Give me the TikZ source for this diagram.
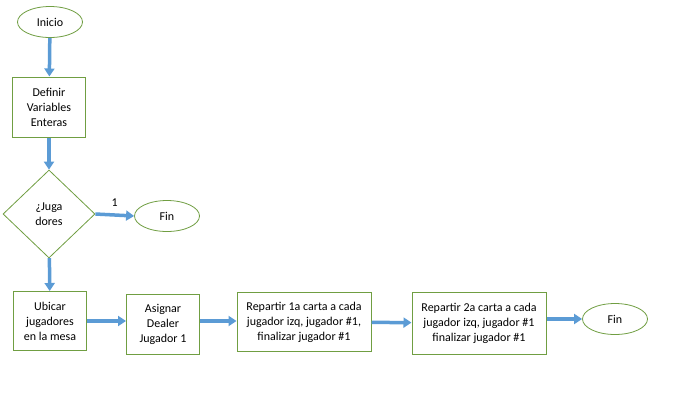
\documentclass[tikz,border=0pt]{standalone}
\usepackage{fontspec}
\setmainfont{Carlito}
\usetikzlibrary{shapes.geometric,arrows.meta}
\definecolor{borde}{RGB}{112,158,66}
\definecolor{flecha}{RGB}{91,155,213}
\tikzset{
  caja/.style={draw=borde, line width=1pt, fill=white, align=center, inner sep=0pt,
    font=\fontsize{12}{15}\selectfont},
  terminal/.style={caja, ellipse, line width=0.8pt, minimum width=65pt, minimum height=31pt},
  decision/.style={caja, diamond, line width=0.8pt, minimum width=92pt, minimum height=88pt},
  flujo/.style={draw=flecha, line width=3.5pt, -{Triangle[length=8pt,width=10pt]}}
}
\begin{document}
\begin{tikzpicture}[x=1pt,y=-1pt]
  \useasboundingbox (0,0) rectangle (676,416);
  % columna izquierda
  \node[terminal] (inicio) at (50,22) {Inicio};
  \node[caja, minimum width=73pt, minimum height=60pt] (definir) at (49,107) {Definir\\Variables\\Enteras};
  \node[decision] (jugadores) at (49,214) {¿Juga\\dores};
  \node[terminal] (fin1) at (167,216) {Fin};
  \node[caja, minimum width=73pt, minimum height=59pt] (ubicar) at (50,321) {Ubicar\\jugadores\\en la mesa};
  % fila inferior
  \node[caja, minimum width=73pt, minimum height=60pt] (asignar) at (163,324) {Asignar\\Dealer\\Jugador 1};
  \node[caja, minimum width=134pt, minimum height=59pt] (reparto1) at (304,322) {Repartir 1a carta a cada\\jugador izq, jugador \#1,\\finalizar jugador \#1};
  \node[caja, minimum width=134pt, minimum height=62pt] (reparto2) at (479,323) {Repartir 2a carta a cada\\jugador izq, jugador \#1\\finalizar jugador \#1};
  \node[terminal] (fin2) at (615,319) {Fin};

  \draw[flujo] (inicio) -- (definir);
  \draw[flujo] (definir) -- (jugadores);
  \draw[flujo] (jugadores.east) -- (fin1.west) node[midway, above=3pt, font=\fontsize{12}{15}\selectfont] {1};
  \draw[flujo] (jugadores) -- (ubicar);
  \draw[flujo] (ubicar) -- (asignar.west |- ubicar);
  \draw[flujo] (asignar.east |- ubicar) -- (reparto1.west |- ubicar);
  \draw[flujo] (reparto1) -- (reparto2);
  \draw[flujo] (reparto2.east |- fin2) -- (fin2);
\end{tikzpicture}
\end{document}
